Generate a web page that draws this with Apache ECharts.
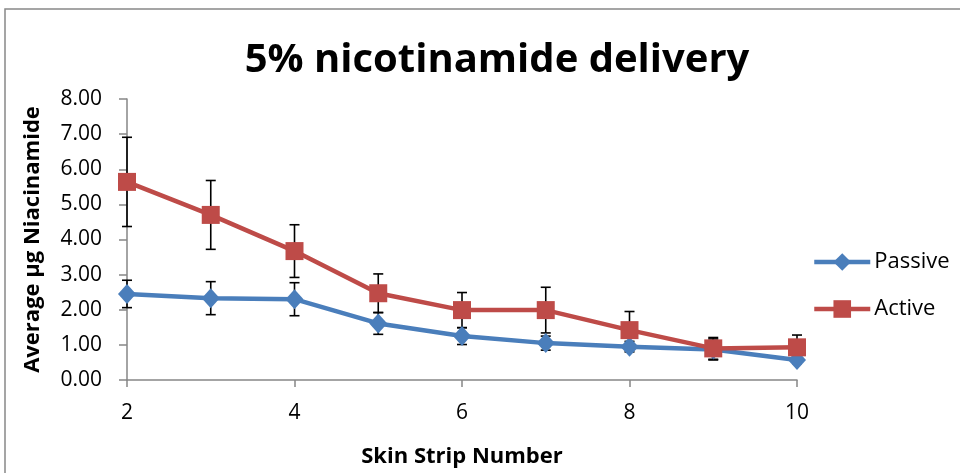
<!DOCTYPE html>
<html><head><meta charset="utf-8">
<script src="https://cdn.jsdelivr.net/npm/echarts@6/dist/echarts.min.js"></script>
<style>html,body{margin:0;padding:0;background:#fff}#c{width:960px;height:473px}</style>
</head><body><div id="c"></div>
<script>
const strips = [2, 3, 4, 5, 6, 7, 8, 9, 10];
const passive = [2.45, 2.33, 2.30, 1.61, 1.25, 1.05, 0.95, 0.87, 0.57];
const passiveErr = [0.39, 0.47, 0.47, 0.31, 0.24, 0.20, 0.15, 0.30, 0.10];
const active = [5.64, 4.70, 3.67, 2.47, 1.99, 1.99, 1.42, 0.90, 0.93];
const activeErr = [1.27, 0.98, 0.75, 0.55, 0.50, 0.65, 0.53, 0.31, 0.35];
const yTicks = [0, 1, 2, 3, 4, 5, 6, 7, 8];

const font = '"Open Sans", Lato, sans-serif';
function errData(vals, errs){ return strips.map((x,i)=>[x, vals[i]-errs[i], vals[i]+errs[i]]); }
function renderErr(params, api){
  const x = api.value(0), lo = api.value(1), hi = api.value(2);
  const pLo = api.coord([x, lo]), pHi = api.coord([x, hi]);
  const w = 5;
  const st = {stroke:'#000', lineWidth:1.6};
  return {type:'group', children:[
    {type:'line', shape:{x1:pLo[0],y1:pLo[1],x2:pHi[0],y2:pHi[1]}, style:st},
    {type:'line', shape:{x1:pLo[0]-w,y1:pLo[1],x2:pLo[0]+w,y2:pLo[1]}, style:st},
    {type:'line', shape:{x1:pHi[0]-w,y1:pHi[1],x2:pHi[0]+w,y2:pHi[1]}, style:st}
  ]};
}
const chart = echarts.init(document.getElementById('c'));
chart.setOption({
  animation:false,
  backgroundColor:'#fff',
  title:{text:'5% nicotinamide delivery', left:492, top:36, textAlign:'center',
    textStyle:{fontFamily:font, fontSize:40, fontWeight:'bold', color:'#000'}},
  graphic:[{type:'rect', shape:{x:5,y:9,width:960,height:470}, style:{fill:'none', stroke:'#888', lineWidth:1.5}, silent:true}],
  grid:{left:127, right:163, top:99, bottom:93},
  legend:{orient:'vertical', left:807, top:246, itemGap:25, itemWidth:56, itemHeight:22,
    data:['Passive','Active'],
    lineStyle:{width:4.5},
    textStyle:{fontFamily:font, fontSize:22, color:'#000', padding:[0,0,0,-1]}},
  xAxis:{type:'value', min:2, max:10, interval:2,
    name:'Skin Strip Number', nameLocation:'middle', nameGap:66,
    nameTextStyle:{fontFamily:font, fontSize:22, fontWeight:'bold', color:'#000'},
    axisLine:{lineStyle:{color:'#868686', width:1.5}},
    axisTick:{show:true, inside:false, length:7, lineStyle:{color:'#868686', width:1.5}},
    axisLabel:{fontFamily:font, fontSize:21, color:'#000', margin:23},
    splitLine:{show:false}},
  yAxis:{type:'value', min:0, max:8, interval:1,
    name:'Average µg Niacinamide', nameLocation:'middle', nameGap:83, nameRotate:90,
    nameTextStyle:{fontFamily:font, fontSize:22, fontWeight:'bold', color:'#000'},
    axisLine:{show:true, lineStyle:{color:'#868686', width:1.5}},
    axisTick:{show:true, length:8, lineStyle:{color:'#868686', width:1.5}},
    axisLabel:{fontFamily:font, fontSize:21, color:'#000', margin:25,
      formatter:v=>yTicks.includes(v)?v.toFixed(2):''},
    splitLine:{show:false}},
  series:[
    {type:'custom', name:'perr', renderItem:renderErr, data:errData(passive,passiveErr), z:1, silent:true},
    {type:'custom', name:'aerr', renderItem:renderErr, data:errData(active,activeErr), z:1, silent:true},
    {type:'line', name:'Passive', data:strips.map((x,i)=>[x,passive[i]]), symbol:'diamond', symbolSize:[18,20],
      lineStyle:{color:'#4a7ebb', width:4.5}, itemStyle:{color:'#4a7ebb'}, z:3},
    {type:'line', name:'Active', data:strips.map((x,i)=>[x,active[i]]), symbol:'rect', symbolSize:18,
      lineStyle:{color:'#be4b48', width:4.5}, itemStyle:{color:'#be4b48'}, z:4}
  ]
});
</script></body></html>
